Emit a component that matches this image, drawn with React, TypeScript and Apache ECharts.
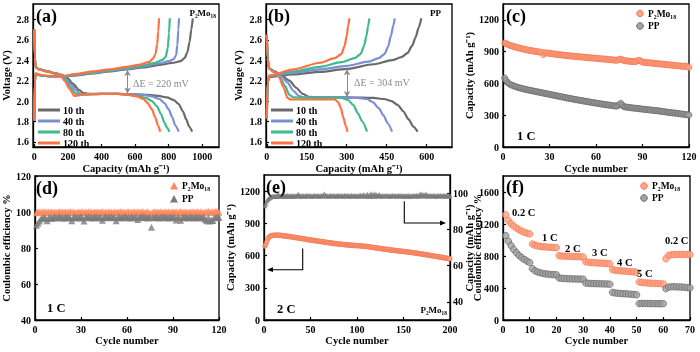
import React, { useEffect, useRef } from 'react';
import * as echarts from 'echarts';

const F = "'Liberation Serif','Times New Roman',serif";

// ---------- (a) P2Mo18 galvanostatic curves ----------
const cycleNames = ['10 th', '40 th', '80 th', '120 th'];
const curveColors = ['#6a6a6a', '#7b8fd6', '#3fb98d', '#ff7043'];

const aDis10 = [[0,2.70],[3,2.42],[8,2.33],[30,2.31],[80,2.29],[130,2.27],[170,2.255],[195,2.23],[230,2.17],[265,2.11],[290,2.08],[320,2.07],[400,2.07],[500,2.07],[600,2.065],[680,2.06],[740,2.05],[790,2.035],[830,2.01],[860,1.97],[885,1.90],[905,1.82],[922,1.75],[940,1.70]];
const aDis40 = [[0,2.70],[3,2.42],[8,2.33],[30,2.31],[80,2.29],[130,2.27],[165,2.255],[190,2.22],[220,2.16],[250,2.10],[272,2.07],[300,2.065],[400,2.07],[500,2.07],[580,2.065],[650,2.06],[700,2.045],[745,2.02],[775,1.98],[800,1.92],[822,1.84],[840,1.76],[860,1.70]];
const aDis80 = [[0,2.70],[3,2.42],[8,2.33],[30,2.31],[80,2.29],[130,2.265],[160,2.25],[185,2.21],[215,2.14],[240,2.08],[255,2.065],[290,2.065],[400,2.07],[500,2.07],[570,2.06],[620,2.05],[665,2.03],[700,2.0],[730,1.95],[755,1.87],[775,1.79],[790,1.74],[805,1.70]];
const aDis120 = [[0,2.70],[3,2.42],[8,2.33],[30,2.31],[80,2.285],[130,2.265],[155,2.25],[180,2.20],[210,2.12],[238,2.05],[260,2.055],[292,2.065],[400,2.07],[500,2.07],[560,2.06],[610,2.045],[650,2.02],[675,1.98],[700,1.92],[720,1.84],[737,1.76],[750,1.70]];
const aChg10 = [[0,1.81],[3,2.20],[8,2.265],[40,2.25],[100,2.24],[170,2.24],[250,2.25],[350,2.27],[450,2.29],[550,2.31],[650,2.33],[750,2.355],[830,2.375],[870,2.39],[895,2.42],[912,2.48],[925,2.58],[935,2.70],[944,2.81]];
const aChg40 = [[0,1.81],[3,2.20],[8,2.265],[40,2.25],[100,2.24],[170,2.24],[250,2.255],[350,2.275],[450,2.295],[550,2.315],[650,2.34],[750,2.37],[800,2.39],[830,2.41],[845,2.45],[852,2.55],[858,2.70],[862,2.81]];
const aChg80 = [[0,1.81],[3,2.20],[8,2.265],[40,2.25],[100,2.24],[170,2.245],[250,2.26],[350,2.28],[450,2.30],[550,2.325],[650,2.35],[720,2.375],[760,2.40],[782,2.43],[795,2.52],[802,2.66],[807,2.81]];
const aChg120 = [[0,1.81],[3,2.20],[8,2.27],[40,2.255],[100,2.245],[170,2.245],[250,2.265],[350,2.29],[450,2.31],[550,2.335],[620,2.355],[680,2.38],[705,2.41],[722,2.46],[732,2.56],[738,2.68],[743,2.81]];

// ---------- (b) PP galvanostatic curves ----------
const bDis10 = [[0,2.65],[3,2.42],[8,2.32],[30,2.29],[55,2.25],[85,2.20],[110,2.13],[135,2.07],[158,2.04],[190,2.035],[300,2.035],[400,2.03],[440,2.02],[468,2.0],[492,1.96],[512,1.90],[532,1.82],[550,1.75],[566,1.70]];
const bDis40 = [[0,2.65],[3,2.42],[8,2.32],[30,2.285],[55,2.24],[78,2.18],[100,2.10],[120,2.05],[140,2.035],[250,2.035],[340,2.03],[375,2.02],[398,1.99],[420,1.93],[438,1.86],[454,1.78],[470,1.70]];
const bDis80 = [[0,2.65],[3,2.42],[8,2.32],[28,2.28],[50,2.23],[68,2.15],[85,2.06],[100,2.035],[200,2.03],[280,2.03],[305,2.01],[325,1.96],[342,1.88],[358,1.80],[376,1.70]];
const bDis120 = [[0,2.65],[3,2.42],[8,2.32],[25,2.285],[45,2.24],[62,2.14],[78,2.03],[90,2.015],[200,2.015],[255,2.015],[268,1.99],[278,1.93],[287,1.84],[296,1.76],[303,1.70]];
const bChg10 = [[0,1.83],[3,2.18],[8,2.235],[100,2.26],[200,2.285],[300,2.315],[400,2.36],[470,2.40],[505,2.43],[528,2.47],[545,2.54],[558,2.62],[570,2.72],[580,2.81]];
const bChg40 = [[0,1.83],[3,2.18],[8,2.245],[100,2.275],[200,2.31],[300,2.345],[380,2.385],[420,2.42],[442,2.46],[455,2.53],[466,2.64],[474,2.73],[480,2.81]];
const bChg80 = [[0,1.83],[3,2.18],[8,2.25],[100,2.29],[200,2.335],[280,2.38],[330,2.42],[352,2.46],[365,2.54],[374,2.64],[380,2.73],[385,2.81]];
const bChg120 = [[0,1.83],[3,2.18],[10,2.25],[100,2.31],[200,2.375],[255,2.42],[280,2.46],[292,2.54],[300,2.64],[305,2.73],[310,2.81]];

// ---------- (c) cycling at 1 C, capacity ----------
const cP2Mo18 = [982,975,968,962,958,952,948,944,940,936,932,928,925,921,918,915,912,910,908,905,902,900,898,895,893,872,890,888,886,884,882,880,878,876,874,872,870,869,867,865,863,862,860,859,857,856,855,853,852,851,849,848,846,845,844,842,841,840,838,837,836,834,833,832,830,829,828,826,825,823,822,820,819,821,826,830,824,816,814,812,811,809,808,806,805,808,815,818,810,802,800,798,797,795,794,792,791,789,788,786,785,783,782,780,779,777,776,774,773,771,770,768,767,765,763,762,760,766,758,752];
const cPP = [652,628,608,596,588,582,576,571,566,561,557,553,549,546,542,539,536,533,530,527,524,521,518,515,512,509,506,503,500,497,494,491,488,485,482,479,476,473,470,467,464,461,458,456,453,450,447,445,442,440,437,434,432,429,427,424,422,419,417,414,412,410,407,405,403,400,398,396,394,392,390,388,386,390,400,412,395,380,378,376,374,372,370,368,366,365,363,361,359,358,356,354,353,351,349,348,346,345,343,342,339,337,335,333,331,329,327,325,323,321,320,318,316,314,312,310,308,306,304,302];

// ---------- (d) coulombic efficiency at 1 C ----------
const dP2Mo18 = [99.6,100.2,99.8,100.1,99.9,100.3,99.7,100.0,100.2,99.8,100.1,99.9,100.2,99.7,100.0,100.3,99.8,100.1,99.9,100.2,99.8,100.0,100.3,99.7,100.1,99.9,99.6,100.2,99.8,100.0,100.1,99.7,100.2,99.9,100.3,99.8,100.0,99.7,100.1,99.9,100.2,99.8,100.0,100.3,99.7,100.1,99.9,100.2,99.8,100.0,99.7,100.1,99.9,100.2,99.8,100.3,99.9,100.0,99.7,100.1,100.2,99.8,100.0,99.9,100.3,99.7,100.1,99.8,100.0,100.2,99.9,99.7,100.1,99.8,99.2,99.4,100.0,100.2,99.8,100.1,99.9,100.3,99.7,100.0,100.2,99.8,100.1,99.9,100.0,100.2,99.8,100.1,99.7,100.0,100.3,99.9,99.8,100.2,100.0,99.7,100.1,99.9,100.2,99.8,100.0,100.3,99.7,100.1,99.9,99.6,100.2,99.8,100.4,100.0,99.9,100.3,99.8,100.5,100.1,99.9];
const dPP = [92.6,93.8,95.0,96.2,96.6,97.0,96.5,95.2,96.8,97.1,96.4,96.9,97.2,96.6,97.0,97.5,96.8,97.1,96.5,97.3,96.9,97.2,96.7,95.1,97.0,97.4,96.6,97.1,96.8,97.5,96.7,95.0,97.2,96.9,97.4,96.8,97.1,96.6,97.3,96.9,97.2,96.7,97.4,95.4,97.0,97.6,96.8,97.2,96.9,97.5,96.8,97.1,95.2,96.9,97.4,96.7,97.2,96.9,97.5,96.8,97.1,96.6,97.3,97.0,96.8,97.4,95.8,97.2,96.9,97.5,96.8,97.3,97.0,96.7,97.2,91.5,97.1,96.8,97.4,97.0,96.7,97.3,96.9,97.5,96.8,97.2,96.6,97.4,97.0,96.8,97.3,95.6,97.1,96.9,95.4,97.2,96.8,97.5,97.0,96.7,97.3,96.9,97.1,96.6,97.4,96.8,97.2,97.0,96.7,97.3,95.8,95.2,96.9,95.0,95.6,95.3,97.0,96.8,97.2,96.9];

// ---------- (e) P2Mo18 at 2 C ----------
const eCapacity = [688,702,728,752,768,777,782,785,787,788,789,790,789,791,788,790,787,789,786,785,784,783,781,782,779,778,777,775,776,773,772,770,769,768,766,765,763,762,760,759,757,758,755,753,752,750,749,747,746,745,744,742,741,740,738,737,736,734,733,732,731,729,728,727,725,724,723,722,720,719,718,717,716,714,713,712,711,710,709,708,707,706,705,704,703,702,701,700,700,699,698,697,697,696,695,695,694,693,693,692,692,691,690,690,689,688,687,686,685,684,683,682,681,679,678,677,676,674,673,672,671,669,668,667,666,664,663,662,660,659,658,657,656,655,653,652,651,650,649,648,647,646,645,644,643,642,641,640,639,638,637,636,635,634,633,631,630,629,628,627,626,624,623,622,620,619,618,616,615,614,612,611,609,608,607,605,604,602,601,600,598,597,595,594,592,591,589,588,586,585,583,582,580,579,577,576,574,573,571,570];
const eEfficiency = [93.0,94.2,95.6,96.5,97.1,97.5,97.9,98.0,98.2,98.1,98.4,98.3,98.6,98.2,99.5,98.4,98.5,98.3,98.7,98.4,98.5,98.2,98.6,98.4,98.8,98.3,98.5,98.6,98.2,98.7,98.4,98.5,98.3,98.6,98.4,98.9,99.4,98.5,98.3,98.6,98.4,98.7,98.5,98.3,98.6,98.8,98.4,98.5,98.7,98.4,98.6,98.3,98.5,98.8,98.4,98.6,98.5,98.7,98.3,98.6,98.4,98.8,98.5,98.6,99.6,98.4,98.7,98.5,98.3,98.6,98.5,98.8,98.4,98.6,98.5,98.7,98.3,98.6,98.5,98.8,98.4,98.6,98.7,98.5,98.3,98.6,98.8,98.4,98.5,98.7,98.5,98.3,98.6,98.8,98.4,98.5,98.7,98.4,98.6,98.5,98.3,98.7,98.5,98.9,98.4,98.6,99.2,98.5,98.3,98.8,99.4,98.2,99.0,98.4,99.6,98.1,99.3,98.5,99.7,98.3,99.1,98.4,98.8,99.2,98.5,98.3,98.7,98.5,98.4,98.6,98.5,98.7,98.4,98.6,98.5,98.3,98.6,98.8,98.4,98.5,98.7,98.5,98.3,98.6,98.8,98.4,98.5,98.7,98.3,98.6,98.5,98.3,98.6,98.4,98.7,98.5,98.2,98.6,98.4,98.5,98.7,98.4,98.6,98.8,98.5,98.3,99.3,98.4,99.6,98.5,99.2,98.4,98.9,99.5,98.3,99.0,98.6,98.4,98.7,98.5,98.6,98.4,98.7,98.5,98.3,98.6,98.8,98.4,98.5,98.7,98.4,98.6,98.5,98.8,98.3,98.6,98.5,98.7,98.4,98.6];

// ---------- (f) rate performance ----------
const fP2Mo18 = [1315,1245,1205,1175,1150,1128,1110,1096,1085,1076,950,935,926,920,916,913,910,908,906,904,805,800,798,797,795,794,793,792,790,788,728,722,719,716,714,712,710,708,706,703,630,622,618,615,612,610,607,604,601,597,475,468,465,463,461,459,457,455,453,451,765,808,815,818,819,820,820,819,818,817];
const fPP = [1055,985,930,882,842,808,780,756,736,718,642,615,600,590,582,576,572,569,567,565,525,520,518,516,515,514,513,512,511,510,462,458,456,455,454,453,452,451,450,447,345,338,334,331,329,327,325,322,319,315,205,206,207,206,205,205,204,204,203,204,392,412,415,416,414,413,411,410,405,402];
const rateLabels = ['0.2 C', '1 C', '2 C', '3 C', '4 C', '5 C', '0.2 C'];

const voltTicks = [1.6, 1.8, 2.0, 2.2, 2.4, 2.6, 2.8];
const capTicksA = [0, 200, 400, 600, 800, 1000];
const capTicksB = [0, 150, 300, 450, 600];
const cycTicks120 = [0, 30, 60, 90, 120];
const cycTicks200 = [0, 50, 100, 150, 200];
const cycTicks70 = [0, 10, 20, 30, 40, 50, 60, 70];
const capTicks1200 = [0, 300, 600, 900, 1200];
const ceTicksD = [40, 60, 80, 100, 120];
const ceTicksE = [40, 60, 80, 100];
const capTicks1600 = [0, 400, 800, 1200, 1600];

const CAP_NAME = 'Capacity (mAh g⁻¹)';
const P2 = 'P₂Mo₁₈';

const ORANGE_FILL = '#ffa386';
const ORANGE_EDGE = '#f3774f';
const GRAY_FILL = '#a3a3a3';
const GRAY_EDGE = '#666666';

function axis(kind: 'x' | 'y', grid: number, min: number, max: number, ticks: number[], name: string, nameGap: number, extra: any = {}) {
  return {
    type: 'value', gridIndex: grid, min, max, name, nameLocation: 'middle', nameGap,
    nameTextStyle: { fontFamily: F, fontWeight: 'bold', fontSize: 10.5, color: '#000' },
    axisLine: { show: true, onZero: false, lineStyle: { color: '#000', width: 1.3 } },
    axisTick: { show: true, inside: true, length: 3, customValues: ticks, lineStyle: { color: '#000', width: 1.2 } },
    axisLabel: { customValues: ticks, fontFamily: F, fontWeight: 'bold', fontSize: 10, color: '#000', margin: 4, formatter: (v: number) => String(v), ...(extra.axisLabel || {}) },
    splitLine: { show: false },
    ...(extra.rest || {}),
  };
}

function curve(data: number[][], color: string, idx: number, extra: any = {}) {
  return {
    type: 'line', xAxisIndex: idx, yAxisIndex: idx, data, showSymbol: false, symbol: 'none',
    smooth: 0.25, smoothMonotone: 'x', silent: true,
    lineStyle: { color, width: 2.2 }, itemStyle: { color }, ...extra,
  };
}

function pts(values: number[]) {
  return values.map((v, i) => [i + 1, v]);
}

function text(x: number, y: number, t: string, size = 10, extra: any = {}) {
  return { type: 'text', x, y, silent: true, z: 100, style: { text: t, fontFamily: F, fontWeight: 'bold', fontSize: size, fill: '#000', verticalAlign: 'middle', ...extra } };
}

function arrowMark(x: number, y1: number, y2: number) {
  return {
    silent: true, symbol: ['arrow', 'arrow'], symbolSize: [5, 6],
    lineStyle: { color: '#8a8a8a', width: 1, type: 'solid' }, label: { show: false },
    data: [[{ coord: [x, y1] }, { coord: [x, y2] }]],
  };
}

export default function App() {
  const ref = useRef<HTMLDivElement>(null);
  useEffect(() => {
    const chart = echarts.init(ref.current!, null, { renderer: 'svg' });
    const gridStyle = { show: true, borderColor: '#000', borderWidth: 1.3, backgroundColor: 'transparent' };
    const voltFmt = { formatter: (v: number) => v.toFixed(1) };

    const aDis = [aDis10, aDis40, aDis80, aDis120];
    const aChg = [aChg10, aChg40, aChg80, aChg120];
    const bDis = [bDis10, bDis40, bDis80, bDis120];
    const bChg = [bChg10, bChg40, bChg80, bChg120];

    const series: any[] = [];
    for (let i = 0; i < 4; i++) {
      series.push(curve(aDis[i], curveColors[i], 0, i === 0 ? { markLine: arrowMark(555, 2.305, 2.075) } : {}));
      series.push(curve(aChg[i], curveColors[i], 0));
    }
    for (let i = 0; i < 4; i++) {
      series.push(curve(bDis[i], curveColors[i], 1, i === 0 ? { markLine: arrowMark(301, 2.31, 2.04) } : {}));
      series.push(curve(bChg[i], curveColors[i], 1));
    }
    const circ = (fill: string, edge: string, size: number) => ({ symbol: 'circle', symbolSize: size, itemStyle: { color: fill, borderColor: edge, borderWidth: 0.9 } });
    series.push({ type: 'scatter', xAxisIndex: 2, yAxisIndex: 2, data: pts(cP2Mo18), silent: true, ...circ(ORANGE_FILL, ORANGE_EDGE, 6) });
    series.push({ type: 'scatter', xAxisIndex: 2, yAxisIndex: 2, data: pts(cPP), silent: true, ...circ(GRAY_FILL, GRAY_EDGE, 6) });
    series.push({ type: 'scatter', xAxisIndex: 3, yAxisIndex: 3, data: pts(dP2Mo18), silent: true, symbol: 'triangle', symbolSize: 7, itemStyle: { color: '#ff8a5e' } });
    series.push({ type: 'scatter', xAxisIndex: 3, yAxisIndex: 3, data: pts(dPP), silent: true, symbol: 'triangle', symbolSize: 7, itemStyle: { color: '#7a7a7a' } });
    series.push({ type: 'scatter', xAxisIndex: 4, yAxisIndex: 4, data: pts(eCapacity), silent: true, ...circ(ORANGE_FILL, ORANGE_EDGE, 4.5) });
    series.push({ type: 'scatter', xAxisIndex: 4, yAxisIndex: 5, data: pts(eEfficiency), silent: true, symbol: 'triangle', symbolSize: 5, itemStyle: { color: '#7a7a7a' } });
    series.push({ type: 'scatter', xAxisIndex: 5, yAxisIndex: 6, data: pts(fP2Mo18), silent: true, ...circ(ORANGE_FILL, ORANGE_EDGE, 6.5) });
    series.push({ type: 'scatter', xAxisIndex: 5, yAxisIndex: 6, data: pts(fPP), silent: true, ...circ(GRAY_FILL, GRAY_EDGE, 6.5) });

    const graphic: any[] = [];
    // panel letters
    graphic.push(text(36, 16, '(a)', 18), text(268, 16, '(b)', 18), text(506, 16, '(c)', 18));
    graphic.push(text(36, 188, '(d)', 18), text(266, 187, '(e)', 18), text(506, 187, '(f)', 18));
    // (a) legend + labels
    const legYs = [110, 121, 132, 143];
    for (let i = 0; i < 4; i++) {
      graphic.push({ type: 'line', silent: true, z: 100, shape: { x1: 38, y1: legYs[i], x2: 60, y2: legYs[i] }, style: { stroke: curveColors[i], lineWidth: 3 } });
      graphic.push(text(63, legYs[i], cycleNames[i], 10));
      graphic.push({ type: 'line', silent: true, z: 100, shape: { x1: 271, y1: legYs[i], x2: 293, y2: legYs[i] }, style: { stroke: curveColors[i], lineWidth: 3 } });
      graphic.push(text(296, legYs[i], cycleNames[i], 10));
    }
    graphic.push(text(216, 13, P2, 9, { align: 'right' }));
    graphic.push(text(133, 83, 'ΔE = 220 mV', 10, { fontWeight: 'normal', fill: '#8a8a8a' }));
    graphic.push(text(441, 13, 'PP', 9, { align: 'right' }));
    graphic.push(text(354, 82, 'ΔE = 304 mV', 10, { fontWeight: 'normal', fill: '#8a8a8a' }));
    // (c) legend
    graphic.push({ type: 'circle', silent: true, z: 100, shape: { cx: 640, cy: 13.5, r: 3.3 }, style: { fill: ORANGE_FILL, stroke: ORANGE_EDGE, lineWidth: 1 } });
    graphic.push(text(648, 13.5, P2, 9.5));
    graphic.push({ type: 'circle', silent: true, z: 100, shape: { cx: 640, cy: 26, r: 3.3 }, style: { fill: GRAY_FILL, stroke: GRAY_EDGE, lineWidth: 1 } });
    graphic.push(text(648, 26, 'PP', 9.5));
    graphic.push(text(517, 136, '1 C', 12.5));
    // (d) legend
    graphic.push({ type: 'polygon', silent: true, z: 100, shape: { points: [[174, 182], [170, 189.5], [178, 189.5]] }, style: { fill: '#ff8a5e' } });
    graphic.push(text(182, 186, P2, 9.5));
    graphic.push({ type: 'polygon', silent: true, z: 100, shape: { points: [[174, 195], [170, 202.5], [178, 202.5]] }, style: { fill: '#7a7a7a' } });
    graphic.push(text(182, 199, 'PP', 9.5));
    graphic.push(text(47, 308, '1 C', 12.5));
    // (e) arrows + labels
    graphic.push({ type: 'polyline', silent: true, z: 100, shape: { points: [[302.7, 248.5], [302.7, 269.7], [271, 269.7]] }, style: { stroke: '#000', lineWidth: 1.1, fill: null } });
    graphic.push({ type: 'polygon', silent: true, z: 100, shape: { points: [[267, 269.7], [273, 267.3], [273, 272.1]] }, style: { fill: '#000' } });
    graphic.push({ type: 'polyline', silent: true, z: 100, shape: { points: [[404.3, 201.3], [404.3, 223], [441, 223]] }, style: { stroke: '#000', lineWidth: 1.1, fill: null } });
    graphic.push({ type: 'polygon', silent: true, z: 100, shape: { points: [[446, 223], [440, 220.6], [440, 225.4]] }, style: { fill: '#000' } });
    graphic.push(text(277, 309, '2 C', 12.5));
    graphic.push(text(447, 310, P2, 9, { align: 'right' }));
    // (f) legend + rate labels
    graphic.push({ type: 'circle', silent: true, z: 100, shape: { cx: 644, cy: 186, r: 3.3 }, style: { fill: ORANGE_FILL, stroke: ORANGE_EDGE, lineWidth: 1 } });
    graphic.push(text(652, 186, P2, 9.5));
    graphic.push({ type: 'circle', silent: true, z: 100, shape: { cx: 644, cy: 198, r: 3.3 }, style: { fill: GRAY_FILL, stroke: GRAY_EDGE, lineWidth: 1 } });
    graphic.push(text(652, 198, 'PP', 9.5));
    const ratePos = [[512, 212], [542, 237.5], [565, 248], [592, 252], [617, 262], [637, 273.5], [665, 240]];
    rateLabels.forEach((l, i) => graphic.push(text(ratePos[i][0], ratePos[i][1], l, 10.5)));

    chart.setOption({
      animation: false,
      grid: [
        { left: 33, top: 4, width: 186, height: 143, ...gridStyle },
        { left: 266, top: 4, width: 186, height: 143, ...gridStyle },
        { left: 503, top: 4, width: 186, height: 143, ...gridStyle },
        { left: 33, top: 176, width: 186, height: 144, ...gridStyle },
        { left: 264, top: 175, width: 186, height: 145, ...gridStyle },
        { left: 503, top: 176, width: 187, height: 144, ...gridStyle },
      ],
      xAxis: [
        axis('x', 0, -8, 1100, capTicksA, CAP_NAME, 16),
        axis('x', 1, -3, 695, capTicksB, CAP_NAME, 16),
        axis('x', 2, 0, 120, cycTicks120, 'Cycle number', 16),
        axis('x', 3, 0, 120, cycTicks120, 'Cycle number', 15),
        axis('x', 4, 0, 200, cycTicks200, 'Cycle number', 15),
        axis('x', 5, 0, 70, cycTicks70, 'Cycle number', 15),
      ],
      yAxis: [
        axis('y', 0, 1.55, 2.95, voltTicks, 'Voltage (V)', 21, { axisLabel: voltFmt }),
        axis('y', 1, 1.55, 2.95, voltTicks, 'Voltage (V)', 22, { axisLabel: voltFmt }),
        axis('y', 2, 0, 1350, capTicks1200, CAP_NAME, 21),
        axis('y', 3, 40, 120, ceTicksD, 'Coulombic efficiency %', 17),
        axis('y', 4, 0, 1350, capTicks1200, CAP_NAME, 21),
        axis('y', 4, 30, 110, ceTicksE, 'Coulombic efficiency %', 13, { rest: { position: 'right' }, axisLabel: { margin: 3 } }),
        axis('y', 5, 0, 1800, capTicks1600, CAP_NAME, 22),
      ],
      series,
      graphic,
    });
    return () => chart.dispose();
  }, []);
  return <div ref={ref} style={{ position: 'fixed', left: 0, top: 0, width: 700, height: 352 }} />;
}
